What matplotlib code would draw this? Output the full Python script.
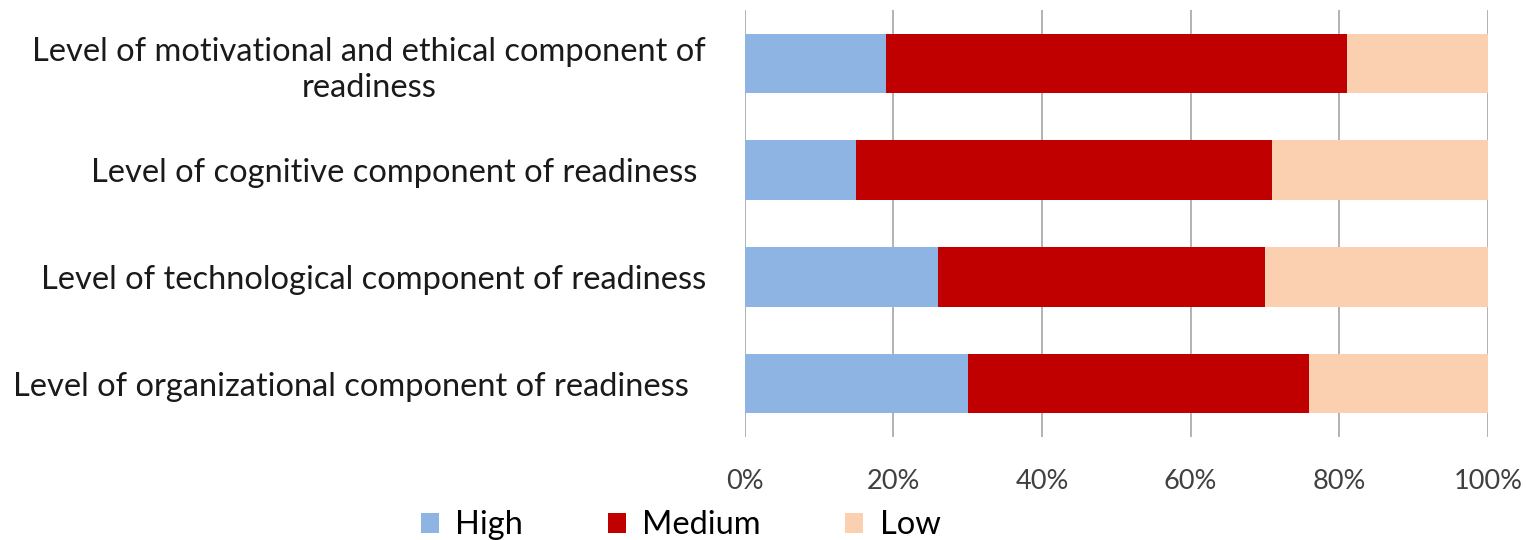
import matplotlib
matplotlib.use("Agg")
import matplotlib.pyplot as plt
from matplotlib.ticker import FuncFormatter

categories = [
    "Level of motivational and ethical component of\nreadiness",
    "Level of cognitive component of readiness ",
    "Level of technological component of readiness",
    "Level of organizational component of readiness  ",
]
series_names = ["High", "Medium", "Low"]
high = [19, 15, 26, 30]
medium = [62, 56, 44, 46]
low = [19, 29, 30, 24]
colors = ["#8DB4E2", "#C00000", "#FBD0B0"]
xticks = [0, 20, 40, 60, 80, 100]

plt.rcParams['font.family'] = ['Lato', 'DejaVu Sans']

fig = plt.figure(figsize=(15.26, 5.4), dpi=100)
ax = fig.add_axes([0.488, 0.191, 0.487, 0.79])

ypos = list(range(len(categories)))
left = [0] * len(categories)
for name, vals, c in zip(series_names, [high, medium, low], colors):
    ax.barh(ypos, vals, left=left, height=0.56, color=c, label=name, zorder=3)
    left = [l + v for l, v in zip(left, vals)]

ax.set_ylim(3.5, -0.5)
ax.set_xlim(0, 100)
ax.set_xticks(xticks)
ax.xaxis.set_major_formatter(FuncFormatter(lambda v, p: f"{int(v)}%"))
ax.set_yticks(ypos)
ax.set_yticklabels(categories, multialignment='center', linespacing=1.25)
ax.grid(axis='x', color='#A6A6A6', linewidth=1.2, zorder=0)
for s in ax.spines.values():
    s.set_visible(False)
ax.tick_params(axis='x', length=0, pad=23, labelsize=19.5, labelcolor='#404040')
ax.tick_params(axis='y', length=0, pad=28, labelsize=23.5, labelcolor='#1a1a1a')

handles, labels = ax.get_legend_handles_labels()
fig.legend(handles, labels, loc='lower center', bbox_to_anchor=(0.446, -0.055), ncol=3,
           frameon=False, fontsize=23.5, handlelength=0.55, handleheight=0.55,
           columnspacing=2.6, handletextpad=0.5)

fig.savefig("out.png", dpi=100, facecolor='white')
